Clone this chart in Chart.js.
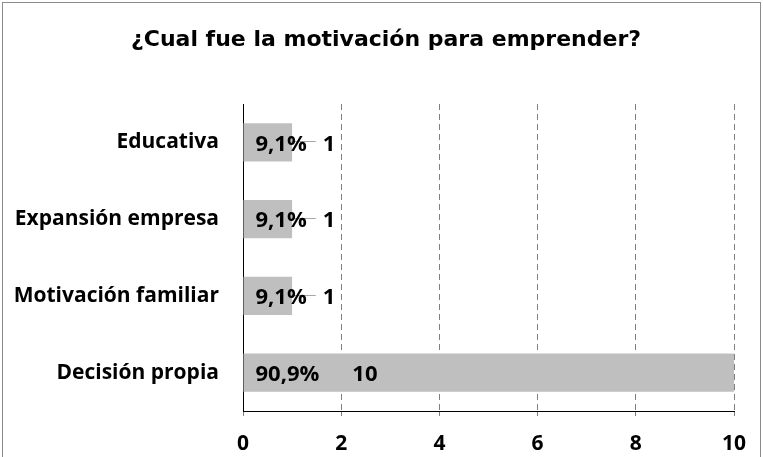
<!DOCTYPE html>
<html>
<head>
<meta charset="utf-8">
<script src="https://cdn.jsdelivr.net/npm/chart.js@4.4.1/dist/chart.umd.min.js"></script>
<style>
  html, body { margin: 0; padding: 0; background: #fff; }
  #wrap { width: 763px; height: 457px; }
</style>
</head>
<body>
<div id="wrap"><canvas id="myChart" width="763" height="457"></canvas></div>
<script>
const chartTitle = "¿Cual fue la motivación para emprender?";
const categories = ["Educativa", "Expansión empresa", "Motivación familiar", "Decisión propia"];
const counts = [1, 1, 1, 10];
const percentLabels = ["9,1%", "9,1%", "9,1%", "90,9%"];
const xTicks = [0, 2, 4, 6, 8, 10];

const labelFont = "bold 22px 'Open Sans'";

// outer frame + title, centred on the whole box like the spreadsheet chart
const framePlugin = {
  id: "frame",
  beforeDraw(chart) {
    const ctx = chart.ctx;
    ctx.save();
    ctx.strokeStyle = "#8c8c8c";
    ctx.lineWidth = 1;
    ctx.strokeRect(2.5, 2.5, 758, 470);
    ctx.font = "bold 22px 'DejaVu Sans'";
    ctx.fillStyle = "#000";
    ctx.textAlign = "center";
    ctx.textBaseline = "alphabetic";
    ctx.fillText(chartTitle, 386, 46);
    ctx.restore();
  },
};

// percent inside bar + count after it (with a leader line when outside)
const barLabels = {
  id: "barLabels",
  afterDatasetsDraw(chart) {
    const ctx = chart.ctx;
    const meta = chart.getDatasetMeta(0);
    ctx.save();
    ctx.font = labelFont;
    ctx.fillStyle = "#000";
    ctx.textBaseline = "middle";
    ctx.textAlign = "left";
    meta.data.forEach((bar, i) => {
      const start = bar.base + 12;
      const y = bar.y + 2;
      const w = ctx.measureText(percentLabels[i]).width;
      let vx = start + w + 16;
      if (vx > bar.x) {
        ctx.strokeStyle = "#a6a6a6";
        ctx.lineWidth = 1;
        ctx.beginPath();
        ctx.moveTo(bar.x, Math.round(bar.y) - 0.5);
        ctx.lineTo(vx - 7, Math.round(bar.y) - 0.5);
        ctx.stroke();
      } else {
        vx = start + w + 33;
      }
      ctx.fillText(percentLabels[i], start, y);
      ctx.fillText(String(counts[i]), vx, y);
    });
    ctx.restore();
  },
};

const ctx = document.getElementById("myChart").getContext("2d");
const myChart = new Chart(ctx, {
  type: "bar",
  data: {
    labels: categories,
    datasets: [
      {
        data: counts,
        backgroundColor: "#bfbfbf",
        borderWidth: 0,
        barPercentage: 1,
        categoryPercentage: 0.5,
      },
    ],
  },
  options: {
    indexAxis: "y",
    responsive: false,
    animation: false,
    layout: { padding: { left: 0, right: 29, top: 104, bottom: 0 } },
    scales: {
      x: {
        min: 0,
        max: 10,
        afterBuildTicks(scale) {
          scale.ticks = xTicks.map((v) => ({ value: v }));
        },
        afterFit(scale) {
          scale.height = 46;
        },
        border: { display: true, color: "#000", width: 1, dash: [6, 4] },
        grid: {
          color: (c) => (c.tick && c.tick.value === 0 ? "rgba(0,0,0,0)" : "#808080"),
          tickColor: "#808080",
          tickLength: 5,
        },
        ticks: {
          color: "#000",
          padding: 15,
          font: { family: "Open Sans", size: 21, weight: "bold" },
        },
      },
      y: {
        afterFit(scale) {
          scale.width = 243;
        },
        border: { display: true, color: "#000", width: 1 },
        grid: { display: false },
        ticks: {
          color: "#000",
          padding: 16,
          font: { family: "Open Sans", size: 21, weight: "bold" },
        },
      },
    },
    plugins: {
      legend: { display: false },
      tooltip: { enabled: false },
      title: { display: false },
    },
  },
  plugins: [framePlugin, barLabels],
});
</script>
</body>
</html>
